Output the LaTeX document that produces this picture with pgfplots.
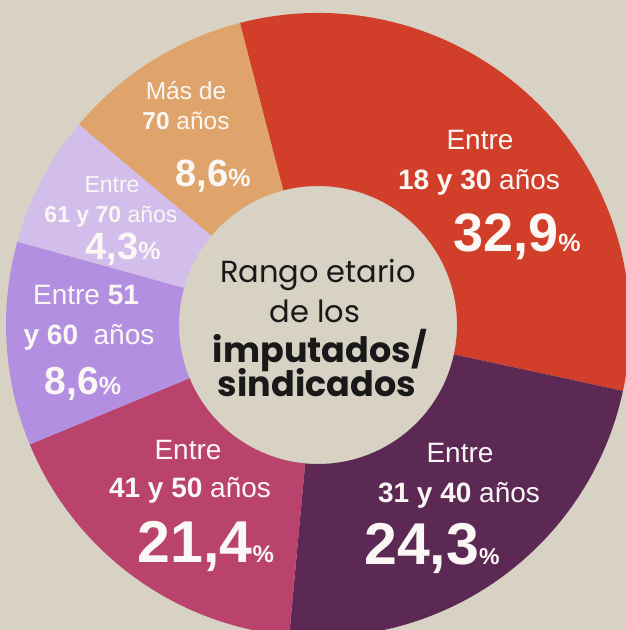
\documentclass[border=0pt]{standalone}
\usepackage{pgfplots}
\pgfplotsset{compat=1.18}
\usepackage{fontspec}
\setmainfont{Liberation Sans}
\newfontfamily\ctr{Poppins}
\definecolor{bg}{HTML}{D7D2C4}
\definecolor{cRed}{HTML}{D13F2A}
\definecolor{cPlum}{HTML}{5B2954}
\definecolor{cPink}{HTML}{B9436D}
\definecolor{cLav}{HTML}{B28FE0}
\definecolor{cLight}{HTML}{D3BDEB}
\definecolor{cTan}{HTML}{DFA46B}
\definecolor{txt}{HTML}{FBF7F5}
\newcommand{\fs}[1]{\fontsize{#1}{#1}\selectfont}
% one donut slice: start angle, end angle, colour (angles as drawn in the reference)
\newcommand{\slice}[3]{%
  \fill[#3] ([shift={(#1:312pt)}]O) arc[start angle=#1, end angle=#2, radius=312pt]
    -- ([shift={(#2:139pt)}]O) arc[start angle=#2, end angle=#1, radius=139pt] -- cycle;}
\newcommand{\lab}[3]{\node[anchor=base, inner sep=0pt, text=txt] at (axis cs:#1,#2) {#3};}
\begin{document}
\begin{tikzpicture}
\begin{axis}[
  hide axis, scale only axis,
  width=626pt, height=630pt,
  xmin=-318, xmax=308, ymin=-305, ymax=325,
]
\clip (axis cs:-318,-305) rectangle (axis cs:308,325);
\fill[bg] (axis cs:-318,-305) rectangle (axis cs:308,325);
\coordinate (O) at (axis cs:0,0);
% slices (shares: 32,9 / 24,3 / 21,4 / 8,6 / 4,3 / 8,6 %)
\slice{104.5}{-12.2}{cRed}
\slice{-12.2}{-95.3}{cPlum}
\slice{-95.3}{-157.5}{cPink}
\slice{202.5}{164.5}{cLav}
\slice{164.5}{140}{cLight}
\slice{140}{104.5}{cTan}
% Entre 18 y 30
\lab{162}{175}{\fs{28}Entre}
\lab{161}{135}{\fs{28}\textbf{18 y 30} años}
\lab{199}{73}{\textbf{\fs{54}32,9\fs{25}\%}}
% Entre 31 y 40
\lab{142}{-138}{\fs{28}Entre}
\lab{141}{-178}{\fs{28}\textbf{31 y 40} años}
\lab{114}{-240}{\textbf{\fs{59}24,3\fs{23}\%}}
% Entre 41 y 50
\lab{-130}{-135}{\fs{28}Entre}
\lab{-128}{-173}{\fs{28}\textbf{41 y 50} años}
\lab{-112}{-238}{\textbf{\fs{59}21,4\fs{24}\%}}
% Entre 51 y 60
\lab{-232}{20}{\fs{28}Entre \textbf{51}}
\lab{-229}{-20}{\fs{28}\textbf{y 60}\ \ años}
\lab{-235}{-70}{\textbf{\fs{39}8,6\fs{25}\%}}
% Entre 61 y 70
\lab{-206}{132}{\fs{23}Entre}
\lab{-207}{102}{\fs{23}\textbf{61 y 70} años}
\lab{-195}{65}{\textbf{\fs{38}4,3\fs{25}\%}}
% Mas de 70
\lab{-132}{225}{\fs{24.5}Más de}
\lab{-132}{195}{\fs{24.5}\textbf{70} años}
\lab{-105}{138}{\textbf{\fs{38}8,6\fs{25}\%}}
% centre
\node[anchor=base, inner sep=0pt, text=black!90] at (axis cs:0,42) {\ctr\fs{30.5}Rango etario};
\node[anchor=base, inner sep=0pt, text=black!90] at (axis cs:-3,2) {\ctr\fs{30.5}de los};
\node[anchor=base, inner sep=0pt, text=black!90] at (axis cs:2,-38) {\ctr\fs{35}\bfseries imputados/};
\node[anchor=base, inner sep=0pt, text=black!90] at (axis cs:-1,-72) {\ctr\fs{35}\bfseries sindicados};
\end{axis}
\pgfresetboundingbox
\useasboundingbox (current axis.south west) rectangle (current axis.north east);
\end{tikzpicture}
\end{document}
